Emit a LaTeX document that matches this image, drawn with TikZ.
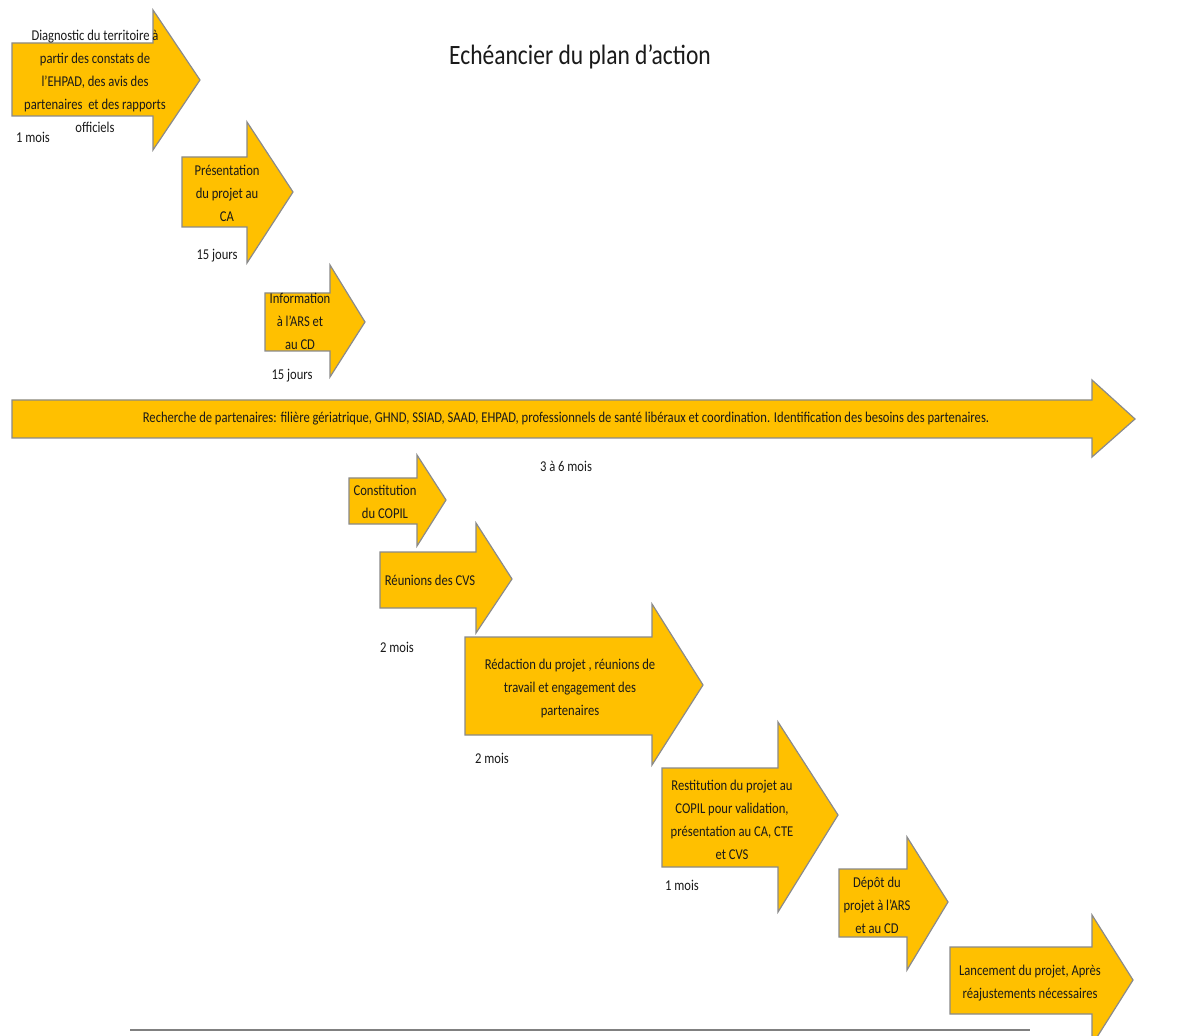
\documentclass[tikz,border=0pt]{standalone}
\usepackage{fontspec}
\setmainfont{Carlito}[FakeStretch=0.84]
\begin{document}
\definecolor{gold}{HTML}{FFC000}
\definecolor{edge}{HTML}{8A8A8A}
\definecolor{ink}{HTML}{1A1A1A}
\begin{tikzpicture}[x=0.5pt,y=-0.5pt,
  blockarrow/.style={fill=gold, draw=edge, line width=0.6pt, line join=miter},
  label/.style={font=\fontsize{7.5}{11.5}\selectfont, text=ink, align=center, inner sep=0pt},
  duration/.style={font=\fontsize{7.5}{11.5}\selectfont, text=ink, inner sep=0pt},
  titlestyle/.style={font=\fontsize{14}{16}\selectfont, text=ink, inner sep=0pt}]
\clip (0,0) rectangle (1181,1036);
\fill[white] (0,0) rectangle (1181,1036);

% block arrows: body left/top/bottom, head base, head top/bottom, tip
\draw[blockarrow] (12,43) -- (153,43) -- (153,10) -- (200,80) -- (153,150) -- (153,116) -- (12,116) -- cycle;
\draw[blockarrow] (182,157) -- (247,157) -- (247,122) -- (293,192) -- (247,263) -- (247,227) -- (182,227) -- cycle;
\draw[blockarrow] (265,293) -- (330,293) -- (330,265) -- (365,322) -- (330,377) -- (330,351) -- (265,351) -- cycle;
\draw[blockarrow] (12,400) -- (1092,400) -- (1092,380) -- (1135,419) -- (1092,457) -- (1092,438) -- (12,438) -- cycle;
\draw[blockarrow] (349,478) -- (417,478) -- (417,455) -- (446,500) -- (417,546) -- (417,524) -- (349,524) -- cycle;
\draw[blockarrow] (380,552) -- (476,552) -- (476,523) -- (512,579) -- (476,633) -- (476,608) -- (380,608) -- cycle;
\draw[blockarrow] (465,637) -- (652,637) -- (652,604) -- (703,685) -- (652,765) -- (652,735) -- (465,735) -- cycle;
\draw[blockarrow] (662,768) -- (778,768) -- (778,722) -- (838,815) -- (778,912) -- (778,867) -- (662,867) -- cycle;
\draw[blockarrow] (839,869) -- (907,869) -- (907,837) -- (948,902) -- (907,970) -- (907,937) -- (839,937) -- cycle;
\draw[blockarrow] (950,947) -- (1092,947) -- (1092,915) -- (1133,980) -- (1092,1045) -- (1092,1014) -- (950,1014) -- cycle;

% title
\node[titlestyle] (title) at (580,57) {Echéancier du plan d’action};

% step texts
\node[label] (t1) at (95,81) {Diagnostic du territoire à\\partir des constats de\\l’EHPAD, des avis des\\partenaires\ \ et des rapports\\officiels};
\node[label] (t2) at (227,193) {Présentation\\du projet au\\CA};
\node[label] (t3) at (300,321) {Information\\à l’ARS et\\au CD};
\node[label] (t4) at (566,419) {Recherche de partenaires: filière gériatrique, GHND, SSIAD, SAAD, EHPAD, professionnels de santé libéraux et coordination. Identification des besoins des partenaires.};
\node[label] (t5) at (385,502) {Constitution\\du COPIL};
\node[label] (t6) at (430,580) {Réunions des CVS};
\node[label] (t7) at (570,688) {Rédaction du projet , réunions de\\travail et engagement des\\partenaires};
\node[label] (t8) at (732,820) {Restitution du projet au\\COPIL pour validation,\\présentation au CA, CTE\\et CVS};
\node[label] (t9) at (877,905) {Dépôt du\\projet à l’ARS\\et au CD};
\node[label] (t10) at (1030,983) {Lancement du projet, Après\\réajustements nécessaires};

% durations
\node[duration] (d1) at (33,137) {1 mois};
\node[duration] (d2) at (217,256) {15 jours};
\node[duration] (d3) at (292,376) {15 jours};
\node[duration] (d4) at (566,466) {3 à 6 mois};
\node[duration] (d6) at (397,647) {2 mois};
\node[duration] (d7) at (492,758) {2 mois};
\node[duration] (d8) at (682,885) {1 mois};

% rule along the bottom
\coordinate (ruleL) at (130,1030);
\coordinate (ruleR) at (1030,1030);
\draw[gray, line width=0.6pt] (ruleL) -- (ruleR);
\end{tikzpicture}
\end{document}
